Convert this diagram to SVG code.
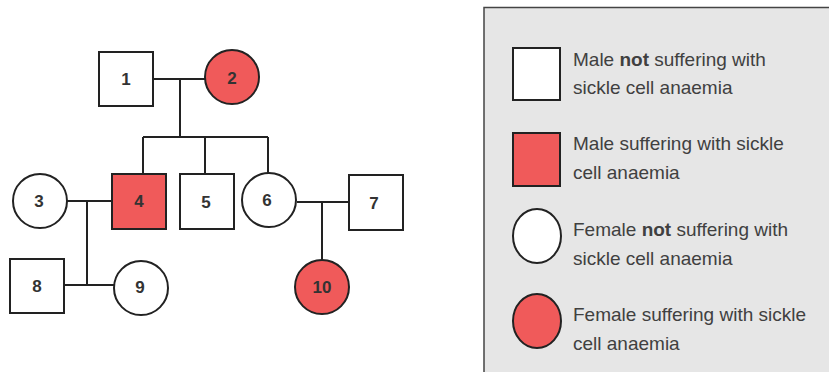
<svg xmlns="http://www.w3.org/2000/svg" width="829" height="372" viewBox="0 0 829 372">
<style>
.n{stroke:#222;stroke-width:2;fill:#fff}
.a{fill:#f05a5a}
.lbl{font-family:"Liberation Sans",Arial,sans-serif;font-weight:bold;font-size:17px;fill:#333;text-anchor:middle;dominant-baseline:central}
.c{stroke:#222;stroke-width:2;fill:none}
.lg{font-family:"Liberation Sans",Arial,sans-serif;font-size:19px;fill:#404040}
</style>
<rect width="829" height="372" fill="#fff"/>
<g id="connectors">
<path class="c" d="M153 79H205M180 79V137M143 137H268M143 137V174M205 137V174M268 137V174"/>
<path class="c" d="M67 201H112M87 201V285M64 285H114"/>
<path class="c" d="M297 202H349M322 202V260"/>
</g>
<g id="n1"><rect class="n" x="99" y="52" width="54" height="54"/><text class="lbl" x="126" y="79">1</text></g>
<g id="n2"><circle class="n a" cx="232" cy="77" r="27"/><text class="lbl" x="232" y="78">2</text></g>
<g id="n3"><circle class="n" cx="40" cy="201" r="27"/><text class="lbl" x="39" y="201">3</text></g>
<g id="n4"><rect class="n a" x="112" y="174" width="54" height="55"/><text class="lbl" x="139" y="201">4</text></g>
<g id="n5"><rect class="n" x="180" y="174" width="54" height="55"/><text class="lbl" x="206" y="202">5</text></g>
<g id="n6"><circle class="n" cx="269" cy="200" r="27"/><text class="lbl" x="267" y="200">6</text></g>
<g id="n7"><rect class="n" x="349" y="175" width="54" height="55"/><text class="lbl" x="374" y="203">7</text></g>
<g id="n8"><rect class="n" x="10" y="259" width="54" height="54"/><text class="lbl" x="37" y="286">8</text></g>
<g id="n9"><circle class="n" cx="141" cy="288" r="27"/><text class="lbl" x="140" y="287">9</text></g>
<g id="n10"><circle class="n a" cx="322" cy="287" r="27"/><text class="lbl" x="322" y="287">10</text></g>
<g id="legend">
<rect x="484" y="7.5" width="360" height="380" fill="#e6e6e6" stroke="#444" stroke-width="1.5"/>
<rect class="n" x="513" y="48" width="47" height="52"/>
<rect class="n a" x="513" y="133" width="47" height="53"/>
<ellipse class="n" cx="537" cy="236" rx="24" ry="27"/>
<ellipse class="n a" cx="537" cy="321" rx="24" ry="27"/>
<text class="lg" x="573" y="66">Male <tspan font-weight="bold">not</tspan> suffering with</text>
<text class="lg" x="573" y="94">sickle cell anaemia</text>
<text class="lg" x="573" y="150">Male suffering with sickle</text>
<text class="lg" x="573" y="179">cell anaemia</text>
<text class="lg" x="573" y="236">Female <tspan font-weight="bold">not</tspan> suffering with</text>
<text class="lg" x="573" y="265">sickle cell anaemia</text>
<text class="lg" x="573" y="321">Female suffering with sickle</text>
<text class="lg" x="573" y="350">cell anaemia</text>
</g>
</svg>
